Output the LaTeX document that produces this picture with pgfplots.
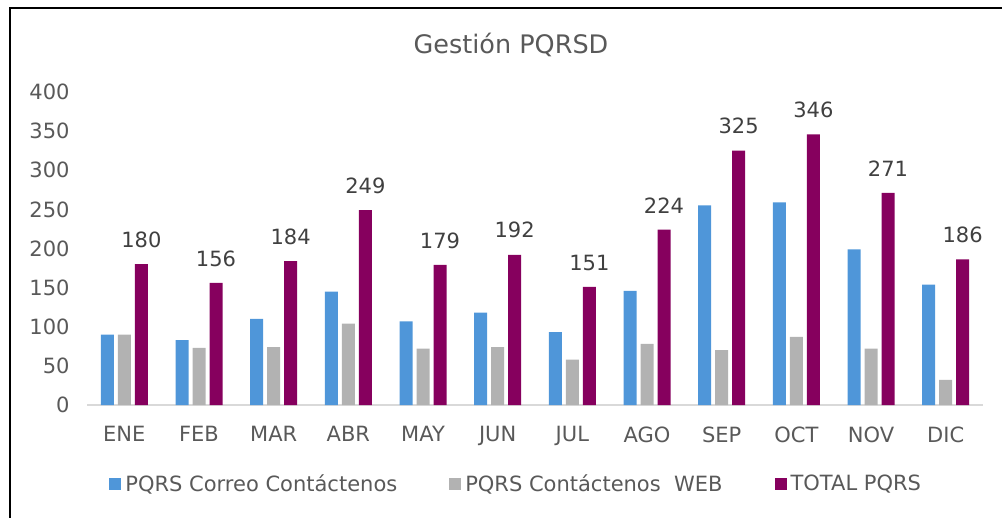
\documentclass[border=0pt]{standalone}
\usepackage{fontspec}
\setmainfont{DejaVu Sans}
\usepackage{pgfplots}
\pgfplotsset{compat=1.18}
\definecolor{cBlue}{HTML}{4F96D9}
\definecolor{cGray}{HTML}{B2B2B2}
\definecolor{cPurp}{HTML}{86005E}
\definecolor{cText}{HTML}{595959}
\definecolor{cLab}{HTML}{404040}
\definecolor{cAxis}{HTML}{D9D9D9}
\newcommand{\fs}{\fontsize{21bp}{25bp}\selectfont}
\begin{document}
\begin{tikzpicture}
\path[use as bounding box] (0,0) rectangle (1002bp,-518bp);
\draw[line width=2.5bp] (10bp,-518bp) -- (10bp,-8bp) -- (1002bp,-8bp);
\node[text=cText, font=\fontsize{25.5bp}{30bp}\selectfont] at (511bp,-45bp) {Gestión PQRSD};
\begin{axis}[
    at={(87bp,-405bp)}, anchor=south west,
    scale only axis,
    width=896bp, height=313bp,
    ybar=4bp, bar width=13bp,
    xmin=-0.5, xmax=11.5,
    ymin=0, ymax=400,
    xtick=data,
    xticklabels={ENE,FEB,MAR,ABR,MAY,JUN,JUL,AGO,SEP,OCT,NOV,DIC},
    ytick={0,50,...,400},
    major tick length=0pt,
    axis x line*=bottom,
    axis y line*=left,
    x axis line style={draw=cAxis, line width=2bp, -},
    y axis line style={draw=none},
    tick style={draw=none},
    /pgf/number format/assume math mode=true,
    ticklabel style={font=\fs, text=cText},
    yticklabel style={xshift=-14bp},
    xticklabel style={yshift=-18bp},
    legend columns=3,
    legend style={draw=none, fill=none, font=\fs, text=cText,
        at={(0.479,-0.252)}, anchor=center,
        /tikz/every odd column/.append style={column sep=2bp},
        /tikz/every even column/.append style={column sep=50bp}},
    legend image code/.code={\path[#1, draw=none] (0bp,-6bp) rectangle (12bp,6bp);},
]
\addplot[fill=cBlue, draw=none] coordinates {
    (0,90) (1,83) (2,110) (3,145) (4,107) (5,118) (6,93) (7,146) (8,255) (9,259) (10,199) (11,154)
};
\addlegendentry{PQRS Correo Contáctenos}
\addplot[fill=cGray, draw=none] coordinates {
    (0,90) (1,73) (2,74) (3,104) (4,72) (5,74) (6,58) (7,78) (8,70) (9,87) (10,72) (11,32)
};
\addlegendentry{PQRS Contáctenos\ \ WEB}
\addplot[fill=cPurp, draw=none,
    nodes near coords,
    nodes near coords style={font=\fs, text=cLab, anchor=south, yshift=13bp}
    ] coordinates {
    (0,180) (1,156) (2,184) (3,249) (4,179) (5,192) (6,151) (7,224) (8,325) (9,346) (10,271) (11,186)
};
\addlegendentry{TOTAL PQRS}
\end{axis}
\end{tikzpicture}
\end{document}
